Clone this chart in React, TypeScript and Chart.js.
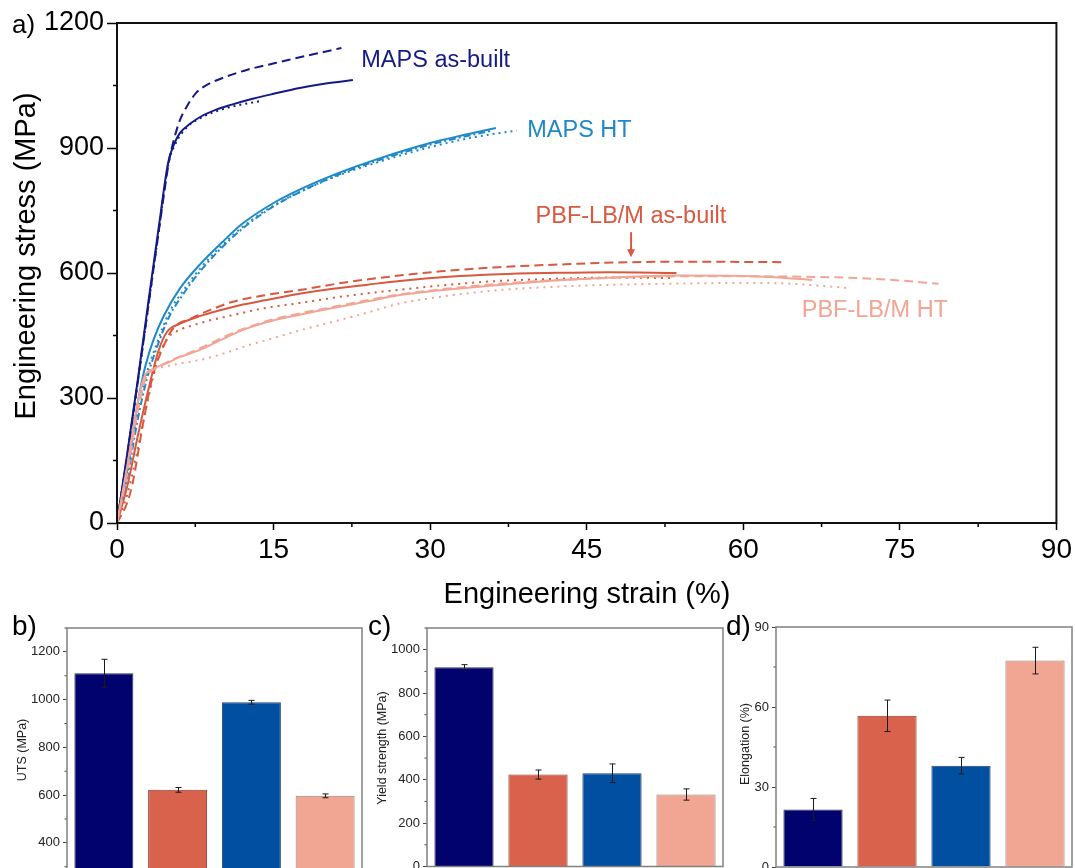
import React, { useEffect, useRef } from 'react';
import { Chart, registerables } from 'chart.js';

Chart.register(...registerables);

const FONT = "Arial, 'Liberation Sans', Helvetica, sans-serif";

// ---------- Panel a: engineering stress–strain curves, [strain %, stress MPa] ----------
const mapsAsBuiltSolid: number[][] = [
  [0, 0], [1, 170], [2, 345], [3, 530], [4, 710], [4.9, 865], [5.4, 905], [6, 935], [7, 958], [8, 975],
  [9.5, 992], [11, 1004], [13, 1018], [15, 1030], [17.5, 1044], [20, 1055], [22.6, 1063],
];
const mapsAsBuiltDashed: number[][] = [
  [0, 0], [1, 165], [2, 340], [3, 520], [4, 700], [5, 870], [5.4, 915], [6, 965], [6.7, 1000], [7.5, 1030],
  [8.5, 1050], [9.5, 1062], [11, 1076], [12.5, 1088], [14.5, 1100], [16.5, 1112], [19, 1126], [21.5, 1140],
];
const mapsAsBuiltDotted: number[][] = [
  [0, 0], [1, 165], [2, 340], [3, 520], [4, 700], [4.9, 860], [5.5, 905], [6.7, 950], [8, 972], [9.5, 988],
  [11.5, 1002], [13.6, 1012],
];
const mapsHtSolid: number[][] = [
  [0, 0], [1, 130], [2, 290], [2.7, 375], [3.5, 440], [4.5, 498], [6, 562], [8, 622], [10, 672], [12, 718],
  [15, 768], [18, 806], [21, 838], [25, 874], [30, 912], [33, 930], [36.3, 948],
];
const mapsHtDashDot: number[][] = [
  [0, 0], [1, 110], [2, 250], [2.8, 340], [3.8, 420], [5, 495], [6.5, 555], [8, 605], [10, 660], [12, 706],
  [15, 760], [18, 800], [21, 834], [25, 870], [30, 908], [33, 926], [36, 942],
];
const mapsHtDotted: number[][] = [
  [0, 0], [1, 120], [2, 270], [2.8, 355], [3.8, 430], [5, 505], [6.5, 563], [8, 612], [10, 665], [12, 710],
  [15, 762], [18, 800], [21, 832], [25, 866], [30, 902], [34, 925], [38.3, 942],
];
const pbfAsBuiltSolid: number[][] = [
  [0, 0], [1, 90], [2, 210], [3, 320], [4, 415], [4.8, 459], [6, 478], [8, 497], [11, 518], [14.3, 535],
  [17.5, 550], [20.7, 562], [24, 572], [27.1, 581], [31.8, 591], [36.6, 597], [41.4, 600], [47, 602], [53.6, 600],
];
const pbfAsBuiltDashed: number[][] = [
  [0, 0], [1, 50], [1.5, 96], [2.5, 239], [3.4, 350], [4.3, 415], [5.4, 468], [7, 490], [9, 512], [11.1, 531],
  [14, 546], [17.5, 559], [22, 578], [26.4, 592], [31, 604], [36.6, 614], [43, 621], [49.3, 626], [56, 627], [64, 626],
];
const pbfAsBuiltDotted: number[][] = [
  [0, 0], [1, 70], [2, 180], [3, 300], [4, 400], [5, 448], [5.4, 456], [8, 480], [11.1, 499], [14, 515],
  [17.5, 528], [22, 545], [26.8, 559], [31, 570], [36.6, 581], [42, 586], [47, 589], [53, 588],
];
const pbfHtSolid: number[][] = [
  [0, 0], [1, 140], [2, 290], [2.6, 350], [3.5, 370], [4.8, 384], [6, 398], [7.9, 415], [10, 440], [12, 463],
  [14.3, 482], [17.5, 500], [20.7, 516], [24, 532], [27.1, 547], [30, 556], [36.6, 571], [42, 582], [48, 590],
  [54, 594], [60, 593], [63, 590], [66.6, 583],
];
const pbfHtDashed: number[][] = [
  [0, 0], [1, 120], [2, 270], [2.8, 350], [3.5, 368], [5, 388], [8, 420], [11, 455], [14.3, 484], [17.5, 503],
  [21, 520], [27, 548], [33, 566], [40, 580], [47, 588], [54, 592], [60, 592], [66, 591], [71, 588], [75, 582], [78.7, 574],
];
const pbfHtDotted: number[][] = [
  [0, 0], [1, 130], [2, 280], [3, 360], [4.5, 375], [6, 383], [7.9, 391], [10, 405], [12, 422], [14.3, 439],
  [17.5, 462], [20.7, 483], [24, 505], [27.1, 527], [31, 543], [36.6, 559], [42, 567], [48, 572], [55, 575],
  [60, 576], [64, 575], [67, 570], [70.1, 564],
];

const strainMin = 0;
const strainMax = 90;
const strainStep = 15;
const stressMin = 0;
const stressMax = 1200;
const stressStep = 300;

const curveLabels = [
  { text: 'MAPS as-built', x: 23.4, y: 1094, color: '#141A85' },
  { text: 'MAPS HT', x: 39.3, y: 926, color: '#1E88C8' },
  { text: 'PBF-LB/M as-built', x: 40.1, y: 720, color: '#D85840' },
  { text: 'PBF-LB/M HT', x: 65.6, y: 494, color: '#F2A594' },
];
const arrowStrain = 49.25;
const arrowFrom = 698;
const arrowTo = 638;

// ---------- Panels b–d: bar charts ----------
const barCategories = ['MAPS as-built', 'PBF-LB/M as-built', 'MAPS HT', 'PBF-LB/M HT'];
const utsValues = [1110, 622, 989, 597];
const utsErrors = [59, 10, 8, 8];
const yieldValues = [919, 424, 430, 332];
const yieldErrors = [12, 21, 43, 26];
const elongationValues = [21.6, 56.7, 38, 77.4];
const elongationErrors = [4.1, 5.9, 3.1, 5];

const NAVY_LINE = '#141A85';
const BLUE_LINE = '#1E88C8';
const RED_LINE = '#D85840';
const SALMON_LINE = '#F2A594';
const barColors = ['#02026E', '#D8624C', '#004FA0', '#F1A693'];
const barBorders = ['#333355', '#8A3A2C', '#23406A', '#9A8078'];

const curves = [
  { pts: pbfHtSolid, color: SALMON_LINE, dash: [] as number[] },
  { pts: pbfHtDashed, color: SALMON_LINE, dash: [9, 5] },
  { pts: pbfHtDotted, color: SALMON_LINE, dash: [2, 5] },
  { pts: pbfAsBuiltSolid, color: RED_LINE, dash: [] as number[] },
  { pts: pbfAsBuiltDashed, color: RED_LINE, dash: [9, 5] },
  { pts: pbfAsBuiltDotted, color: RED_LINE, dash: [2, 5] },
  { pts: mapsHtSolid, color: BLUE_LINE, dash: [] as number[] },
  { pts: mapsHtDashDot, color: BLUE_LINE, dash: [7, 3, 2, 3] },
  { pts: mapsHtDotted, color: BLUE_LINE, dash: [2, 4] },
  { pts: mapsAsBuiltSolid, color: NAVY_LINE, dash: [] as number[] },
  { pts: mapsAsBuiltDashed, color: NAVY_LINE, dash: [9, 5] },
  { pts: mapsAsBuiltDotted, color: NAVY_LINE, dash: [2, 4] },
];

// ---------- plugin: frame, minor ticks, titles, error bars, labels ----------
const decorPlugin = {
  id: 'decor',
  afterDatasetsDraw(chart: any, _args: any, opts: any) {
    const { ctx } = chart;
    ctx.save();
    if (opts.errors && opts.errors.length) {
      const meta = chart.getDatasetMeta(0);
      const ys = chart.scales.y;
      const vals = chart.data.datasets[0].data;
      ctx.strokeStyle = '#1a1a1a';
      ctx.lineWidth = 1;
      meta.data.forEach((bar: any, i: number) => {
        const v = vals[i];
        const e = opts.errors[i];
        const x = Math.round(bar.x) + 0.5;
        const y1 = ys.getPixelForValue(v + e);
        const y2 = ys.getPixelForValue(v - e);
        ctx.beginPath();
        ctx.moveTo(x, y1);
        ctx.lineTo(x, y2);
        ctx.moveTo(x - 3, y1);
        ctx.lineTo(x + 3, y1);
        ctx.moveTo(x - 3, y2);
        ctx.lineTo(x + 3, y2);
        ctx.stroke();
      });
    }
    if (opts.labels && opts.labels.length) {
      const xs = chart.scales.x;
      const ys = chart.scales.y;
      ctx.font = `23.5px ${FONT}`;
      ctx.textAlign = 'left';
      ctx.textBaseline = 'alphabetic';
      opts.labels.forEach((l: any) => {
        ctx.fillStyle = l.color;
        ctx.fillText(l.text, xs.getPixelForValue(l.x), ys.getPixelForValue(l.y));
      });
    }
    if (opts.arrow) {
      const xs = chart.scales.x;
      const ys = chart.scales.y;
      const ax = xs.getPixelForValue(opts.arrow.x);
      const a1 = ys.getPixelForValue(opts.arrow.from);
      const a2 = ys.getPixelForValue(opts.arrow.to);
      ctx.strokeStyle = opts.arrow.color;
      ctx.fillStyle = opts.arrow.color;
      ctx.lineWidth = 2;
      ctx.beginPath();
      ctx.moveTo(ax, a1);
      ctx.lineTo(ax, a2 - 6);
      ctx.stroke();
      ctx.beginPath();
      ctx.moveTo(ax - 4, a2 - 8);
      ctx.lineTo(ax + 4, a2 - 8);
      ctx.lineTo(ax, a2);
      ctx.closePath();
      ctx.fill();
    }
    ctx.restore();
  },
  afterDraw(chart: any, _args: any, opts: any) {
    const { ctx, chartArea: ca } = chart;
    ctx.save();
    (opts.minor || []).forEach((m: any) => {
      const s = chart.scales[m.axis];
      const vals = s.ticks.map((t: any) => t.value);
      if (vals.length < 2) return;
      const step = vals[1] - vals[0];
      const minors: number[] = [];
      vals.forEach((v: number) => {
        if (v + step / 2 <= s.max) minors.push(v + step / 2);
      });
      if (vals[0] - step / 2 >= s.min) minors.push(vals[0] - step / 2);
      ctx.strokeStyle = m.color;
      ctx.lineWidth = m.width;
      ctx.beginPath();
      minors.forEach((v) => {
        const p = s.getPixelForValue(v);
        if (m.axis === 'x') {
          ctx.moveTo(p, ca.bottom);
          ctx.lineTo(p, ca.bottom + m.len);
        } else {
          ctx.moveTo(ca.left - m.len, p);
          ctx.lineTo(ca.left, p);
        }
      });
      ctx.stroke();
    });
    if (opts.frame) {
      ctx.strokeStyle = opts.frame.color;
      ctx.lineWidth = opts.frame.width;
      ctx.strokeRect(ca.left, ca.top, ca.right - ca.left, ca.bottom - ca.top);
    }
    (opts.titles || []).forEach((t: any) => {
      ctx.save();
      ctx.translate(t.x, t.y);
      if (t.rotate) ctx.rotate(-Math.PI / 2);
      ctx.font = `${t.size}px ${FONT}`;
      ctx.fillStyle = t.color;
      ctx.textAlign = 'center';
      ctx.textBaseline = 'alphabetic';
      ctx.fillText(t.text, 0, 0);
      ctx.restore();
    });
    ctx.restore();
  },
};

function ChartCanvas({ left, top, width, height, makeConfig }: any) {
  const ref = useRef<HTMLCanvasElement | null>(null);
  useEffect(() => {
    if (!ref.current) return;
    const chart = new Chart(ref.current, makeConfig());
    return () => chart.destroy();
  }, []);
  return (
    <canvas
      ref={ref}
      width={width}
      height={height}
      style={{ position: 'absolute', left, top, width, height }}
    />
  );
}

const plainTick = (v: any) => String(v);

function lineConfig() {
  return {
    type: 'line',
    data: {
      datasets: curves.map((c) => ({
        data: c.pts.map(([x, y]) => ({ x, y })),
        borderColor: c.color,
        borderWidth: 2,
        borderDash: c.dash,
        pointRadius: 0,
        fill: false,
        cubicInterpolationMode: 'monotone',
      })),
    },
    plugins: [decorPlugin],
    options: {
      animation: false,
      responsive: false,
      devicePixelRatio: 1,
      layout: { padding: { left: 0, top: 23, right: 17, bottom: 0 } },
      plugins: {
        legend: { display: false },
        tooltip: { enabled: false },
        decor: {
          frame: { color: '#111', width: 2 },
          minor: [
            { axis: 'x', len: 4, color: '#000', width: 1.5 },
            { axis: 'y', len: 4, color: '#000', width: 1.5 },
          ],
          titles: [
            { text: 'Engineering strain (%)', x: 587, y: 603, size: 29, color: '#000' },
            { text: 'Engineering stress (MPa)', x: 35, y: 256, size: 29, color: '#000', rotate: true },
          ],
          labels: curveLabels,
          arrow: { x: arrowStrain, from: arrowFrom, to: arrowTo, color: RED_LINE },
        },
      },
      scales: {
        x: {
          type: 'linear',
          min: strainMin,
          max: strainMax,
          afterFit: (s: any) => {
            s.height = 89;
          },
          ticks: { stepSize: strainStep, callback: plainTick, font: { family: FONT, size: 28 }, color: '#000', padding: 3, maxRotation: 0, autoSkip: false },
          grid: { drawOnChartArea: false, drawTicks: true, tickLength: 7, tickWidth: 1.5, tickColor: '#000' },
          border: { display: false },
        },
        y: {
          type: 'linear',
          min: stressMin,
          max: stressMax,
          afterFit: (s: any) => {
            s.width = 117;
          },
          ticks: { stepSize: stressStep, callback: plainTick, font: { family: FONT, size: 27 }, color: '#000', padding: 3 },
          grid: { drawOnChartArea: false, drawTicks: true, tickLength: 10, tickWidth: 1.5, tickColor: '#000' },
          border: { display: false },
        },
      },
    },
  };
}

function barConfig(p: any) {
  return () => ({
    type: 'bar',
    data: {
      labels: barCategories,
      datasets: [
        {
          data: p.values,
          backgroundColor: barColors,
          borderColor: barBorders,
          borderWidth: 1,
          barPercentage: 0.8,
          categoryPercentage: 1,
        },
      ],
    },
    plugins: [decorPlugin],
    options: {
      animation: false,
      responsive: false,
      devicePixelRatio: 1,
      layout: { padding: p.padding },
      plugins: {
        legend: { display: false },
        tooltip: { enabled: false },
        decor: {
          frame: { color: '#808080', width: 1.5 },
          minor: [{ axis: 'y', len: 2.5, color: '#444', width: 1 }],
          titles: [{ text: p.title, x: p.titleX, y: p.titleY, size: 12.5, color: '#222', rotate: true }],
          errors: p.errors,
        },
      },
      scales: {
        x: { display: false },
        y: {
          min: p.min,
          max: p.max,
          afterBuildTicks: (s: any) => {
            s.ticks = s.ticks.filter((t: any) => Math.abs(t.value / p.step - Math.round(t.value / p.step)) < 1e-6);
          },
          afterFit: (s: any) => {
            s.width = p.axisWidth;
          },
          ticks: { stepSize: p.step, callback: plainTick, font: { family: FONT, size: 13 }, color: '#222', padding: 3 },
          grid: { drawOnChartArea: false, drawTicks: true, tickLength: 4, tickWidth: 1, tickColor: '#444' },
          border: { display: false },
        },
      },
    },
  });
}

const panelLabels = [
  { text: 'a)', left: 12, top: 11, size: 26 },
  { text: 'b)', left: 12, top: 612, size: 28 },
  { text: 'c)', left: 368, top: 612, size: 28 },
  { text: 'd)', left: 726, top: 612, size: 28 },
];

export default function App() {
  return (
    <div
      style={{
        position: 'absolute',
        left: 0,
        top: 0,
        width: 1075,
        height: 868,
        overflow: 'hidden',
        background: '#fff',
        fontFamily: FONT,
      }}
    >
      <ChartCanvas left={0} top={0} width={1075} height={612} makeConfig={lineConfig} />
      <ChartCanvas
        left={0}
        top={600}
        width={372}
        height={310}
        makeConfig={barConfig({
          values: utsValues,
          errors: utsErrors,
          min: 200,
          max: 1300,
          step: 200,
          axisWidth: 67,
          padding: { left: 0, top: 28, right: 10, bottom: 19.4 },
          title: 'UTS (MPa)',
          titleX: 25.5,
          titleY: 150,
        })}
      />
      <ChartCanvas
        left={360}
        top={600}
        width={373}
        height={290}
        makeConfig={barConfig({
          values: yieldValues,
          errors: yieldErrors,
          min: 0,
          max: 1100,
          step: 200,
          axisWidth: 67,
          padding: { left: 0, top: 28, right: 10, bottom: 23.5 },
          title: 'Yield strength (MPa)',
          titleX: 25.5,
          titleY: 148,
        })}
      />
      <ChartCanvas
        left={710}
        top={600}
        width={365}
        height={290}
        makeConfig={barConfig({
          values: elongationValues,
          errors: elongationErrors,
          min: 0,
          max: 90,
          step: 30,
          axisWidth: 66,
          padding: { left: 0, top: 27, right: 3, bottom: 23 },
          title: 'Elongation (%)',
          titleX: 38.5,
          titleY: 144,
        })}
      />
      {panelLabels.map((l) => (
        <div
          key={l.text}
          style={{
            position: 'absolute',
            left: l.left,
            top: l.top,
            fontSize: l.size,
            lineHeight: `${l.size}px`,
            color: '#000',
            whiteSpace: 'nowrap',
          }}
        >
          {l.text}
        </div>
      ))}
    </div>
  );
}
